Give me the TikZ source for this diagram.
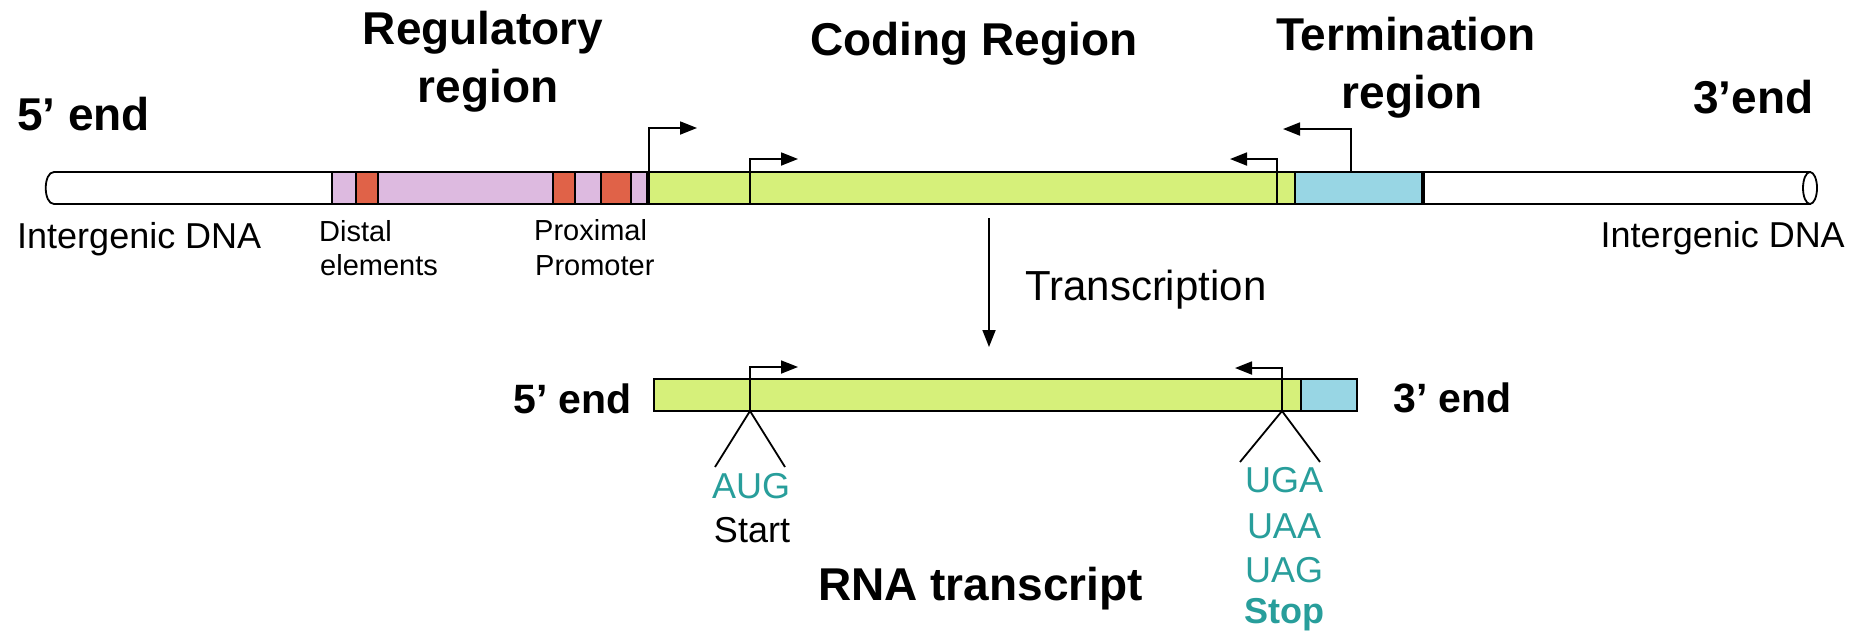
\documentclass[tikz,border=0pt]{standalone}
\usepackage{fontspec}
\setmainfont{Liberation Sans}
\usetikzlibrary{arrows.meta}
\definecolor{cgreen}{RGB}{214,240,122}
\definecolor{cpink}{RGB}{221,186,224}
\definecolor{cred}{RGB}{224,98,72}
\definecolor{cblue}{RGB}{152,214,228}
\definecolor{cteal}{RGB}{40,158,155}
\tikzset{
  title/.style={font=\fontsize{46}{56}\selectfont\bfseries, inner sep=0pt, anchor=base},
  endlbl/.style={font=\fontsize{41}{48}\selectfont\bfseries, inner sep=0pt, anchor=base west},
  small/.style={font=\fontsize{29}{34}\selectfont, inner sep=0pt, anchor=base west},
  mid/.style={font=\fontsize{36}{44}\selectfont, inner sep=0pt, anchor=base},
  codon/.style={font=\fontsize{36}{44}\selectfont, inner sep=0pt, anchor=base, text=cteal},
  seg/.style={draw=black, line width=1.8pt},
  thinln/.style={line width=1.8pt},
  thickln/.style={line width=3.6pt},
  tss/.style={line width=1.8pt, -{Triangle[length=17pt,width=13pt]}},
}
\begin{document}
\begin{tikzpicture}[x=1pt,y=-1pt]
\useasboundingbox (0,0) rectangle (1865,641);

% ---------- DNA bar ----------
\path[seg, fill=white] (54,172) -- (332,172) -- (332,204) -- (54,204)
  .. controls (43,204) and (43,172) .. (54,172) -- cycle;
\path[seg, fill=cpink] (332,172) rectangle (648,204);
\path[seg, fill=cred] (356,172) rectangle (378,204);
\path[seg, fill=cred] (553,172) rectangle (575,204);
\path[seg, fill=cred] (601,172) rectangle (631,204);
\path[seg, fill=cgreen] (648,172) rectangle (1295,204);
\path[seg, fill=cblue] (1295,172) rectangle (1423,204);
\path[seg, fill=white] (1423,172) rectangle (1810,204);
\path[seg, fill=white] (1810,188) ellipse [x radius=7, y radius=16];
\draw[thickln] (648,172) -- (648,204);
\draw[thickln] (1423,172) -- (1423,204);

% transcription start / stop marks on DNA
\coordinate (a1s) at (649,172);  \coordinate (a1e) at (697,128);
\coordinate (a2s) at (750,204);  \coordinate (a2e) at (798,159);
\coordinate (a3s) at (1277,204); \coordinate (a3e) at (1230,159);
\coordinate (a4s) at (1351,172); \coordinate (a4e) at (1283,129);
\draw[tss] (a1s) |- (a1e);
\draw[tss] (a2s) |- (a2e);
\draw[tss] (a3s) |- (a3e);
\draw[tss] (a4s) |- (a4e);

% ---------- labels, top ----------
\node[title, anchor=base west] (five) at (17,130) {5’ end};
\node[title] (reg1) at (483,44) {Regulatory};
\node[title] (reg2) at (488,102) {region};
\node[title, anchor=base west] (coding) at (810,55) {Coding Region};
\node[title] (term1) at (1406,50) {Termination};
\node[title] (term2) at (1412,108) {region};
\node[title, anchor=base west] (three) at (1693,113) {3’end};

\node[mid, anchor=base west] (igl) at (17,248) {Intergenic DNA};
\node[mid, anchor=base east] (igr) at (1845,247) {Intergenic DNA};
\node[small] (dist1) at (319,241) {Distal};
\node[small] (dist2) at (320,275) {elements};
\node[small] (prox1) at (534,240) {Proximal};
\node[small] (prox2) at (535,275) {Promoter};

% ---------- transcription arrow ----------
\coordinate (tr1) at (989,218);
\coordinate (tr2) at (989,347);
\draw[tss] (tr1) -- (tr2);
\node[font=\fontsize{42}{48}\selectfont, inner sep=0pt, anchor=base west] (trans) at (1025,300) {Transcription};

% ---------- RNA bar ----------
\path[seg, fill=cgreen] (654,379) rectangle (1301,411);
\path[seg, fill=cblue] (1301,379) rectangle (1357,411);
\coordinate (r1s) at (750,411);  \coordinate (r1e) at (798,367);
\coordinate (r2s) at (1282,411); \coordinate (r2e) at (1235,368);
\draw[tss] (r1s) |- (r1e);
\draw[tss] (r2s) |- (r2e);

\coordinate (v1l) at (715,467); \coordinate (v1r) at (785,467);
\coordinate (v2l) at (1240,462); \coordinate (v2r) at (1320,462);
\draw[thinln] (v1l) -- (r1s) -- (v1r);
\draw[thinln] (v2l) -- (r2s) -- (v2r);

\node[endlbl] (rfive) at (513,413) {5’ end};
\node[endlbl] (rthree) at (1393,412) {3’ end};

\node[codon] (aug) at (751,498) {AUG};
\node[mid] (start) at (752,542) {Start};
\node[codon] (uga) at (1284,492) {UGA};
\node[codon] (uaa) at (1284,538) {UAA};
\node[codon] (uag) at (1284,582) {UAG};
\node[codon, font=\fontsize{36}{44}\selectfont\bfseries] (stop) at (1284,623) {Stop};

\node[title, anchor=base west] (rna) at (818,600) {RNA transcript};
\end{tikzpicture}
\end{document}
